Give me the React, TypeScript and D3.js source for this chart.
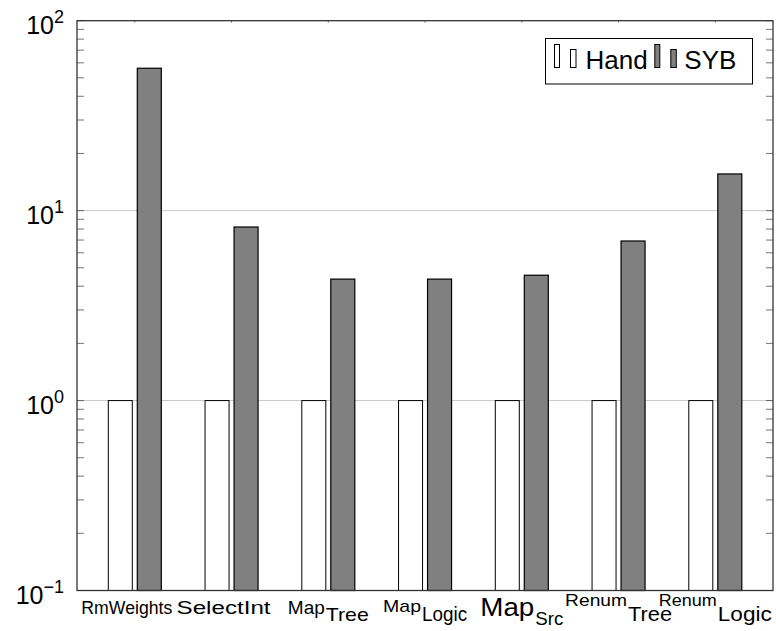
import React from "react";
import * as d3 from "d3";

const categories = ["RmWeights", "SelectInt", "Map", "Map", "Map", "Renum", "Renum"];
const subscripts = ["", "", "Tree", "Logic", "Src", "Tree", "Logic"];
const handValues = [1, 1, 1, 1, 1, 1, 1];
const sybValues = [56.2, 8.2, 4.36, 4.36, 4.57, 6.92, 15.6];
const seriesNames = ["Hand", "SYB"];
const yTickExponents = [-1, 0, 1, 2];

// label styling (sizes / widths per label part)
const labelStyle = [
  { bs: 18, bw: 91, bdy: 0, ss: 18, sw: 0, sdy: 0 },
  { bs: 18, bw: 94, bdy: 0, ss: 18, sw: 0, sdy: 0 },
  { bs: 19, bw: 37, bdy: 0, ss: 19, sw: 44, sdy: 7 },
  { bs: 17, bw: 38, bdy: -2, ss: 20, sw: 46, sdy: 7 },
  { bs: 26, bw: 54, bdy: 2, ss: 19, sw: 29, sdy: 11 },
  { bs: 17, bw: 62, bdy: -8, ss: 20, sw: 45, sdy: 7 },
  { bs: 17, bw: 58, bdy: -8, ss: 20, sw: 55, sdy: 7 },
];

const W = 776;
const H = 631;
const left = 77;
const right = 773;
const top = 20.7;
const bottom = 590.5;
const FONT = "'Liberation Sans', Arial, sans-serif";

export default function App() {
  const y = d3.scaleLog().domain([0.1, 100]).range([bottom, top]);
  const x = d3
    .scalePoint<number>()
    .domain(categories.map((_, i) => i))
    .range([left + 57.8, right - 57.7]);
  const barW = 24;
  const off = 14.5;

  const minor: number[] = [];
  [-1, 0, 1].forEach((e) => {
    for (let k = 2; k <= 9; k++) minor.push(k * Math.pow(10, e));
  });

  return (
    <svg
      width={W}
      height={H}
      style={{ position: "absolute", left: 0, top: 0, background: "#fff" }}
      fontFamily={FONT}
    >
      <rect x={0} y={0} width={W} height={H} fill="#fff" />
      {/* grid */}
      {[1, 10].map((v) => (
        <line key={v} x1={left} x2={right} y1={y(v)} y2={y(v)} stroke="#c8c8c8" strokeWidth={1} />
      ))}
      {/* minor ticks */}
      {minor.map((v) => (
        <g key={v}>
          <line x1={left} x2={left + 7} y1={y(v)} y2={y(v)} stroke="#777" strokeWidth={1} />
          <line x1={right} x2={right - 7} y1={y(v)} y2={y(v)} stroke="#777" strokeWidth={1} />
        </g>
      ))}
      {yTickExponents.map((e) => (
        <g key={e}>
          <line x1={left} x2={left + 7} y1={y(Math.pow(10, e))} y2={y(Math.pow(10, e))} stroke="#666" strokeWidth={1} />
          <line x1={right} x2={right - 7} y1={y(Math.pow(10, e))} y2={y(Math.pow(10, e))} stroke="#666" strokeWidth={1} />
        </g>
      ))}
      {/* top ticks */}
      {categories.map((_, i) => (
        <line key={i} x1={x(i)} x2={x(i)} y1={top} y2={top + 2} stroke="#777" />
      ))}
      {/* bars */}
      {categories.map((_, i) => (
        <g key={i}>
          <rect
            x={(x(i) as number) - off - barW / 2}
            y={y(handValues[i])}
            width={barW}
            height={bottom - y(handValues[i])}
            fill="#fff"
            stroke="#000"
            strokeWidth={1}
          />
          <rect
            x={(x(i) as number) + off - barW / 2}
            y={y(sybValues[i])}
            width={barW}
            height={bottom - y(sybValues[i])}
            fill="#808080"
            stroke="#000"
            strokeWidth={1.2}
          />
        </g>
      ))}
      {/* frame */}
      <rect x={left} y={top} width={right - left} height={bottom - top} fill="none" stroke="#333" strokeWidth={1.3} />
      {/* y tick labels */}
      {yTickExponents.map((e) => (
        <text key={e} x={64} y={y(Math.pow(10, e)) + 13} textAnchor="end" fontSize={25} fill="#000">
          <tspan>10</tspan>
          <tspan dy={-11} fontSize={18}>{e < 0 ? "\u2212" + Math.abs(e) : String(e)}</tspan>
        </text>
      ))}
      {/* x tick labels */}
      {categories.map((c, i) => {
        const s = labelStyle[i];
        const total = s.bw + (subscripts[i] ? s.sw : 0);
        const cx = (x(i) as number) + (subscripts[i] ? 0 : -8);
        const x0 = cx - total / 2;
        return (
          <g key={i}>
            <text x={x0} y={614 + s.bdy} fontSize={s.bs} textLength={s.bw} lengthAdjust="spacingAndGlyphs">
              {c}
            </text>
            {subscripts[i] && (
              <text x={x0 + s.bw + 1} y={614 + s.sdy} fontSize={s.ss} textLength={s.sw - 1} lengthAdjust="spacingAndGlyphs">
                {subscripts[i]}
              </text>
            )}
          </g>
        );
      })}
      {/* legend */}
      <rect x={545.5} y={38.5} width={207} height={45.5} fill="#fff" stroke="#000" strokeWidth={1} />
      {seriesNames.map((n, k) => {
        const bx = k === 0 ? 554 : 654.3;
        const fill = k === 0 ? "#fff" : "#808080";
        return (
          <g key={n}>
            <rect x={bx + 0.5} y={44.5} width={5} height={23} fill={fill} stroke="#000" strokeWidth={1} />
            <rect x={bx + 16.5} y={49.5} width={5.5} height={18} fill={fill} stroke="#000" strokeWidth={1} />
            <text x={k === 0 ? 585.5 : 684.3} y={69} fontSize={26} fill="#000">
              {n}
            </text>
          </g>
        );
      })}
    </svg>
  );
}
